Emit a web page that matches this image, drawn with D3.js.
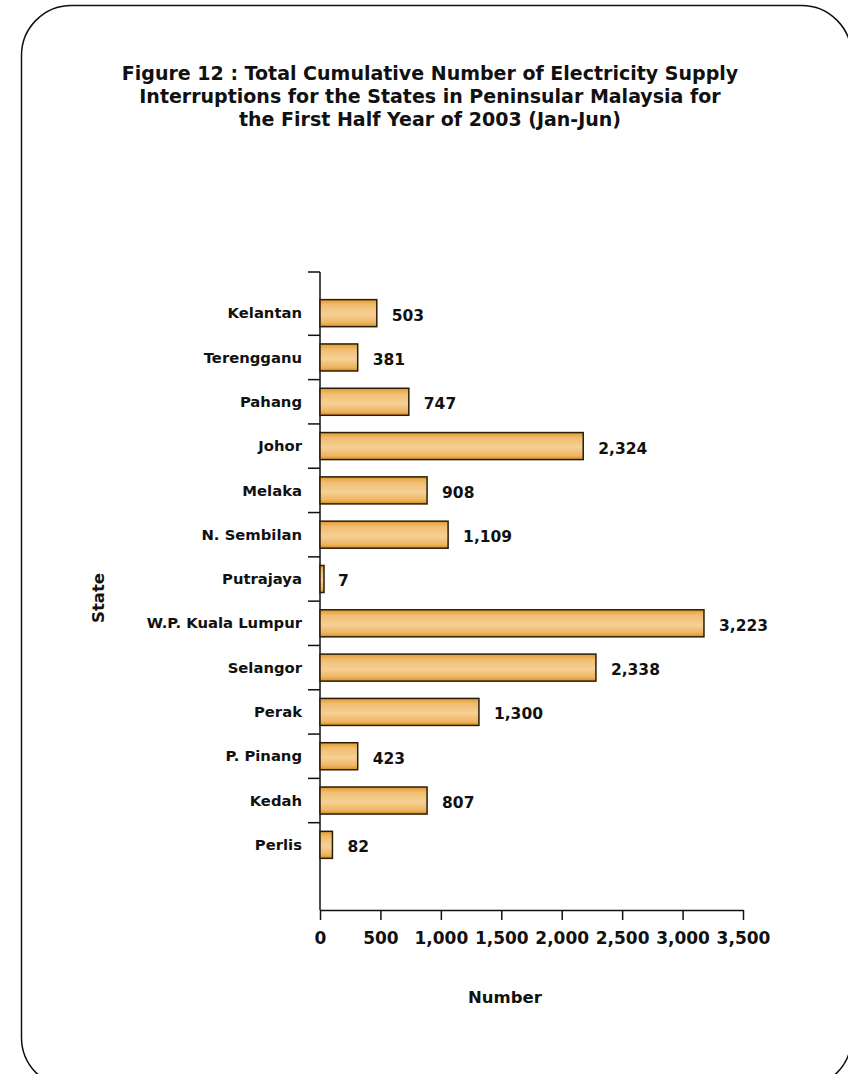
<!DOCTYPE html>
<html><head>
<meta charset="utf-8">
<title>Figure 12</title>
<script src="https://d3js.org/d3.v7.min.js"></script>
<style>
  body { margin: 0; background: #fff; }
  text { font-family: "DejaVu Sans", Verdana, sans-serif; font-weight: bold; fill: #111; }
  .axis path, .axis line { stroke: #111; stroke-width: 1.5px; }
</style>
</head>
<body>
<svg id="chart" width="848" height="1074"></svg>
<script>

// States, top to bottom as in the figure
const states = ["Kelantan", "Terengganu", "Pahang", "Johor", "Melaka", "N. Sembilan",
                "Putrajaya", "W.P. Kuala Lumpur", "Selangor", "Perak", "P. Pinang", "Kedah", "Perlis"];

// Printed data labels
const interruptions = [503, 381, 747, 2324, 908, 1109, 7, 3223, 2338, 1300, 423, 807, 82];

// Bar lengths as drawn in the original figure (they do not quite agree with the labels)
const barLengths = [470, 312, 735, 2178, 886, 1060, 25, 3177, 2283, 1315, 312, 886, 103];

const xTicks = [0, 500, 1000, 1500, 2000, 2500, 3000, 3500];

const titleLines = ["Figure 12 : Total Cumulative Number of Electricity Supply",
                    "Interruptions for the States in Peninsular Malaysia for",
                    "the First Half Year of 2003 (Jan-Jun)"];

const svg = d3.select("#chart");

// rounded frame (runs off the right and bottom edges)
svg.append("rect")
   .attr("x", 21.5).attr("y", 5.5)
   .attr("width", 830).attr("height", 1082)
   .attr("rx", 50).attr("ry", 50)
   .attr("fill", "none").attr("stroke", "#111").attr("stroke-width", 1.5);

// title
svg.append("g").selectAll("text").data(titleLines)
   .join("text")
   .attr("x", 430).attr("y", (d, i) => 80 + i * 23)
   .attr("text-anchor", "middle")
   .style("font-size", "19px")
   .text(d => d);

// gradient for bars
const grad = svg.append("defs").append("linearGradient")
   .attr("id", "barGrad").attr("x1", 0).attr("y1", 0).attr("x2", 0).attr("y2", 1);
[[0, "#E39A2C"], [0.2, "#F0BD70"], [0.55, "#F6D096"], [0.85, "#EEB662"], [1, "#DA8E20"]]
  .forEach(s => grad.append("stop").attr("offset", s[0]).attr("stop-color", s[1]));

const x = d3.scaleLinear().domain([0, 3500]).range([320, 743]);
const y = d3.scaleBand().domain(states).range([291, 867]).paddingInner(0.39).paddingOuter(0.195);

const axisY0 = 272, axisY1 = 910;

// x axis
svg.append("g").attr("class", "axis")
   .attr("transform", `translate(0,${axisY1})`)
   .call(d3.axisBottom(x).tickValues(xTicks).tickFormat(d3.format(","))
           .tickSize(10).tickSizeOuter(0).tickPadding(12))
   .call(g => g.selectAll("text").style("font-size", "17px").attr("fill", "#111"));

// y axis line with category separators
const yAxis = svg.append("g").attr("class", "axis");
yAxis.append("line").attr("x1", 320).attr("x2", 320).attr("y1", axisY0).attr("y2", axisY1);
const sepYs = [axisY0].concat(states.slice(1).map(s => y(s) - y.step() * y.paddingInner() / 2));
yAxis.selectAll("line.sep").data(sepYs).join("line")
   .attr("class", "sep")
   .attr("x1", 308).attr("x2", 320).attr("y1", d => d).attr("y2", d => d);

// bars
svg.append("g").selectAll("rect").data(states)
   .join("rect")
   .attr("x", x(0))
   .attr("y", d => y(d))
   .attr("width", (d, i) => Math.max(x(barLengths[i]) - x(0), 4))
   .attr("height", y.bandwidth())
   .attr("fill", "url(#barGrad)")
   .attr("stroke", "#2a1d08").attr("stroke-width", 1.5);

// category labels
svg.append("g").selectAll("text").data(states)
   .join("text")
   .attr("x", 302)
   .attr("y", d => y(d) + y.bandwidth() / 2)
   .attr("dy", "0.35em")
   .attr("text-anchor", "end")
   .style("font-size", "14.8px")
   .text(d => d);

// value labels
svg.append("g").selectAll("text").data(states)
   .join("text")
   .attr("x", (d, i) => x(barLengths[i]) + 15)
   .attr("y", d => y(d) + y.bandwidth() / 2 + 2)
   .attr("dy", "0.35em")
   .style("font-size", "15.5px")
   .text((d, i) => d3.format(",")(interruptions[i]));

// axis titles
svg.append("text").attr("x", 505).attr("y", 1003)
   .attr("text-anchor", "middle").style("font-size", "16.5px").text("Number");
svg.append("text").attr("transform", "translate(104,598) rotate(-90)")
   .attr("text-anchor", "middle").style("font-size", "16.5px").text("State");

</script>
</body>
</html>
